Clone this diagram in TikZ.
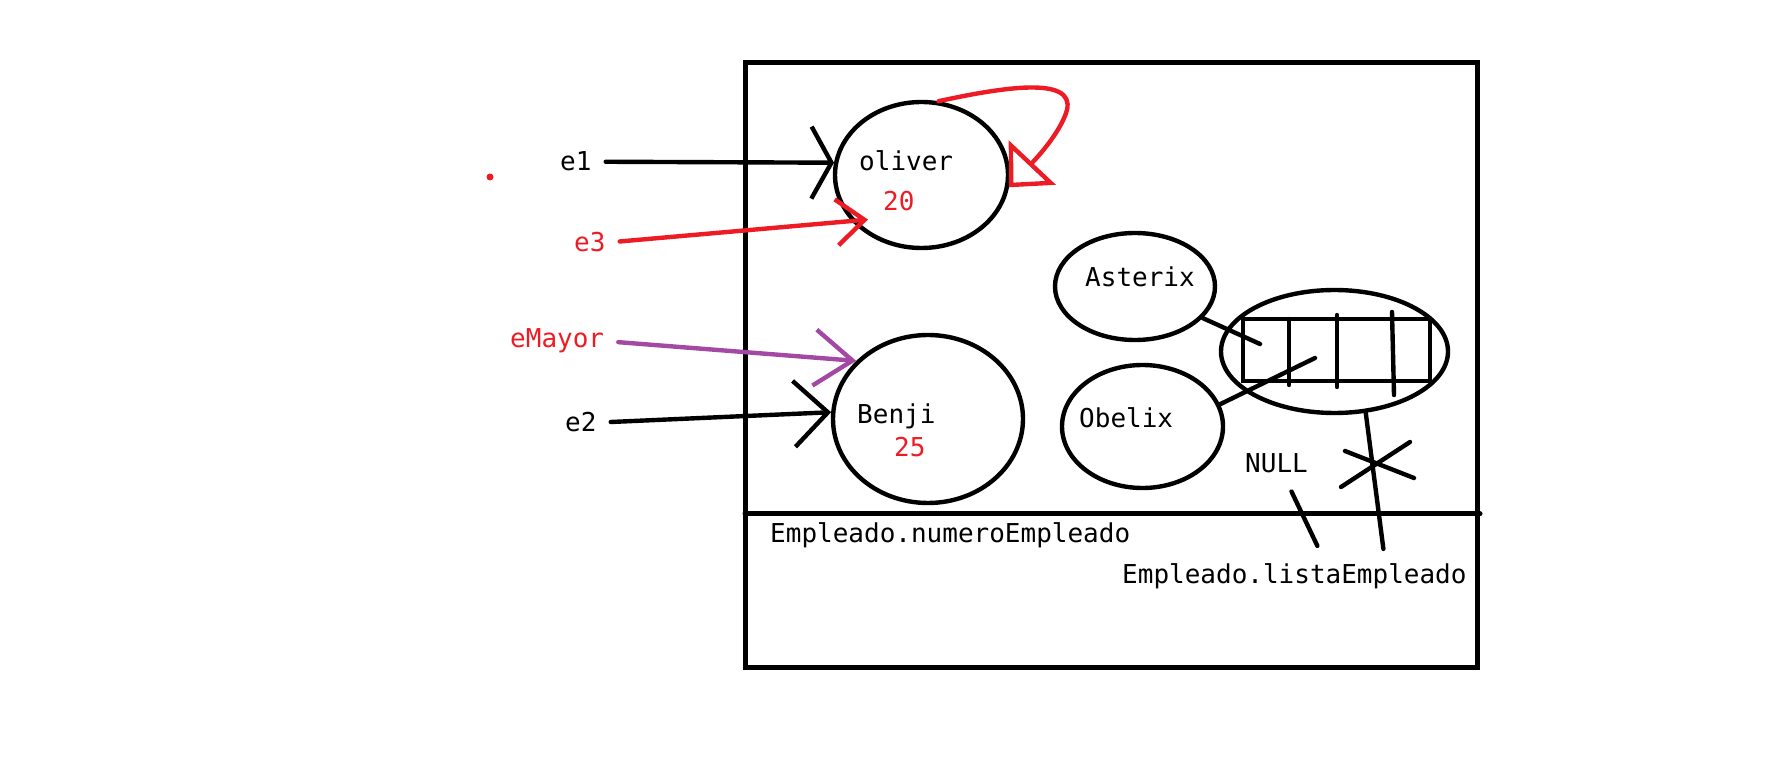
\documentclass[tikz,border=0pt]{standalone}
\usepackage{fontspec}
\setmonofont{DejaVu Sans Mono}
\usetikzlibrary{shapes.geometric,arrows.meta}
\definecolor{rojo}{RGB}{237,28,36}
\definecolor{morado}{RGB}{163,73,164}

\begin{document}
\begin{tikzpicture}[x=0.5pt,y=-0.5pt, line width=2.2pt, line cap=round,
  objeto/.style={draw, ellipse, inner sep=0pt},
  etiqueta/.style={inner sep=0pt, anchor=base west, font=\ttfamily\fontsize{13}{15}\selectfont},
  flecha/.style={shorten <=6pt}]
\useasboundingbox (0,0) rectangle (1768,780);
% caja de memoria:
\draw[line width=2.5pt] (745,63) rectangle (1477,667);
\draw[line width=2.5pt] (745,514) -- (1480,514); % linea estatica

% objetos:
\node[objeto, minimum width=86.5pt, minimum height=73pt] (oliver) at (921.5,175) {};
\node[objeto, minimum width=95pt, minimum height=84pt] (benji) at (928,419) {};
\node[objeto, minimum width=80pt, minimum height=53.5pt] (asterix) at (1135,286.5) {};
\node[objeto, minimum width=80.5pt, minimum height=61.5pt] (obelix) at (1142.5,426.5) {};
\node[objeto, minimum width=113.5pt, minimum height=61.5pt] (lista) at (1334.5,351.5) {};

% textos:
\node[etiqueta] (toliver) at (857,171) {oliver};
\node[etiqueta, text=rojo] (n20) at (881,211) {20};
\node[etiqueta] (tbenji) at (855,424) {Benji};
\node[etiqueta, text=rojo] (n25) at (892,457) {25};
\node[etiqueta] (tasterix) at (1083,287) {Asterix};
\node[etiqueta] (tobelix) at (1077,428) {Obelix};
\node[etiqueta] (null) at (1243,473) {NULL};
\node[etiqueta] (numero) at (768,543) {Empleado.numeroEmpleado};
\node[etiqueta] (listaE) at (1120,583) {Empleado.listaEmpleado};
\node[etiqueta] (e1) at (558,171) {e1};
\node[etiqueta, text=rojo] (e3) at (572,252) {e3};
\node[etiqueta, text=rojo] (emayor) at (508,348) {eMayor};
\node[etiqueta] (e2) at (563,432) {e2};

% referencias:
\draw[flecha, -{Straight Barb[length=10pt,width=36pt]}] (e1.east) -- (oliver.172);
\draw[flecha, rojo, -{Straight Barb[length=14pt,width=23pt]}] (e3.east) -- ([xshift=-6.5pt,yshift=-3pt]n20.south west);
\draw[flecha, morado, -{Straight Barb[length=19pt,width=28pt]}] (emayor.east) -- (benji.141);
\draw[flecha, -{Straight Barb[length=17pt,width=33pt]}] (e2.east) -- (benji.176);

% bucle de oliver:
\draw[rojo, -{Triangle[open,length=17pt,width=32pt]}] (oliver.77) .. controls (1000,88) and (1075,75) .. (1067,110) .. controls (1060,135) and (1030,165) .. (oliver.-8);

% arreglo de empleados:
\draw (1243,319) rectangle (1430,381);
\draw (1289,319) -- (1289,385); % primera division
\draw (1337,315) -- (1337,387); % segunda division
\draw (1392,312) -- (1394,395); % tercera division
\coordinate (c1) at (1260,344);
\coordinate (c2) at (1315,358);
\draw (asterix.-25) -- (c1);
\draw (obelix.16) -- (c2);

% listaEmpleado y NULL:
\draw (lista.-63) -- ([xshift=44.5pt,yshift=6pt]listaE.north);
\draw ([xshift=7.5pt,yshift=-8pt]null.south) -- ([xshift=11.5pt,yshift=7.5pt]listaE.north);
\draw (1345,451) -- (1414,478); % cruz
\draw (1341,487) -- (1410,442);

\fill[rojo] (490,177) circle (3.5);
\end{tikzpicture}
\end{document}
